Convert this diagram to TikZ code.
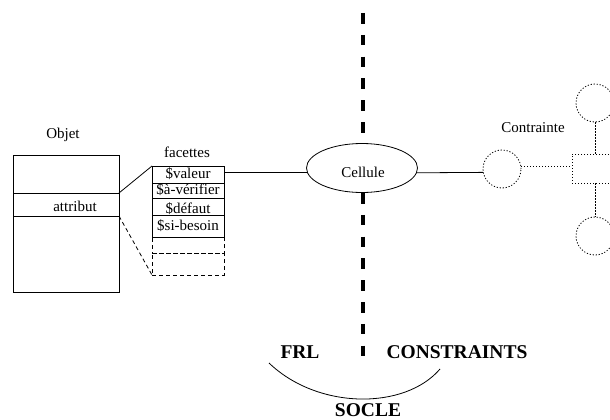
\documentclass[tikz,border=0pt]{standalone}
\usepackage{fontspec}
\setmainfont{Liberation Serif}
\usetikzlibrary{shapes.geometric}
\tikzset{
  cellbox/.style={draw, line width=0.8pt, inner sep=0pt, outer sep=0pt, minimum width=#1},
  dashbox/.style={cellbox=#1, dash pattern=on 4pt off 3pt},
  txt/.style={inner sep=0pt, font=\fontsize{15}{18}\selectfont},
  bigtxt/.style={inner sep=0pt, font=\fontsize{19.5}{22}\selectfont\bfseries},
  dotc/.style={circle, draw, line width=0.8pt, dash pattern=on 1.2pt off 1.8pt, minimum size=38pt, inner sep=0pt},
  dotl/.style={line width=0.8pt, dash pattern=on 1.2pt off 1.8pt},
  sepline/.style={line width=3.3pt, dash pattern=on 10.6pt off 11.2pt},
  thin/.style={line width=0.8pt}
}
\begin{document}
\begin{tikzpicture}[x=1pt,y=-1pt]
\useasboundingbox (0,0) rectangle (610,420);
\clip (0,0) rectangle (610,420);
% separator
\coordinate (s1) at (363,13);
\coordinate (s2) at (363,144);
\coordinate (s3) at (363,193);
\coordinate (s4) at (363,357);
\draw[sepline] (s1) -- (s2);
\draw[sepline] (s3) -- (s4);
% Objet
\node[txt] (objlbl) at (63,135) {Objet};
\node[cellbox=106pt, minimum height=38pt] (otop) at (66,174) {};
\node[cellbox=106pt, minimum height=23pt] (oattr) at (66,204.5) {};
\node[cellbox=106pt, minimum height=76pt] (obot) at (66,254) {};
\node[txt] (attrlbl) at (75,206) {attribut};
% facettes
\node[txt] (faclbl) at (187,152) {facettes};
\node[cellbox=72pt, minimum height=17pt] (f1) at (188,174.5) {};
\node[cellbox=72pt, minimum height=15pt] (f2) at (188,190.5) {};
\node[cellbox=72pt, minimum height=17pt] (f3) at (188,206.5) {};
\node[cellbox=72pt, minimum height=22pt] (f4) at (188,226) {};
\node[dashbox=72pt, minimum height=16pt] (f5) at (188,245) {};
\node[dashbox=72pt, minimum height=22pt] (f6) at (188,264) {};
\node[txt] (t1) at (188,174) {\$valeur};
\node[txt] (t2) at (188,190) {\$à-vérifier};
\node[txt] (t3) at (188,209) {\$défaut};
\node[txt] (t4) at (188,226) {\$si-besoin};
\draw[thin] (oattr.north east) -- (f1.north west);
\draw[thin, dash pattern=on 4pt off 3pt] (oattr.south east) -- (f6.south west);
% Cellule
\node[ellipse, draw, thin, fill=white, minimum width=111pt, minimum height=49pt, inner sep=0pt] (cell) at (362,168) {};
\node[txt] (celllbl) at (363,172) {Cellule};
\draw[thin] (f1.east |- cell.185) -- (cell.185);
% Contrainte
\node[dotc] (c0) at (502,169) {};
\node[txt] (conlbl) at (533,128) {Contrainte};
\draw[thin] (cell.355) -- (c0.190);
\node[draw, dotl, minimum width=46pt, minimum height=29pt, inner sep=0pt] (sq) at (595,168.5) {};
\node[dotc] (cu) at (595,103) {};
\node[dotc] (cd) at (595,236) {};
\draw[dotl] (c0.9) -- (c0.9 -| sq.west);
\draw[dotl] (cu.south) -- (sq.north);
\draw[dotl] (sq.south) -- (cd.north);
% bottom
\node[bigtxt] (frl) at (300,352) {FRL};
\node[bigtxt] (cons) at (457,352) {CONSTRAINTS};
\node[bigtxt] (socle) at (368,410.5) {SOCLE};
\coordinate (a1) at (269,363);
\coordinate (a2) at (440,369);
\draw[thin] (a1) .. controls (318,410) and (405,410) .. (a2);
\end{tikzpicture}
\end{document}
